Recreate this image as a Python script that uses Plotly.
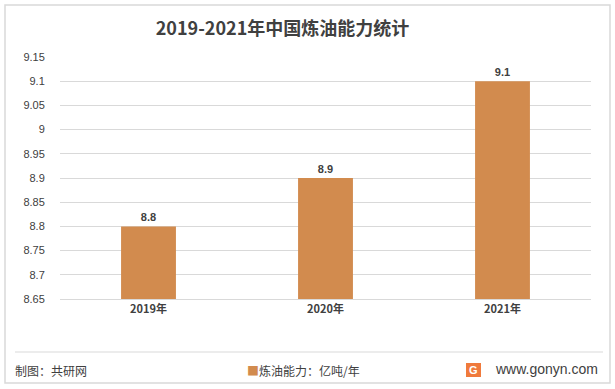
import plotly.graph_objects as go

categories = ["2019年", "2020年", "2021年"]
values = [8.8, 8.9, 9.1]
tick_vals = [8.65, 8.7, 8.75, 8.8, 8.85, 8.9, 8.95, 9.0, 9.05, 9.1, 9.15]
tick_text = ["8.65", "8.7", "8.75", "8.8", "8.85", "8.9", "8.95", "9", "9.05", "9.1", "9.15"]
series_name = "炼油能力：亿吨/年"
bar_color = "#D28B4E"

W, H = 615, 389
L, R, T, B = 60, 24, 57, 90
PW, PH = W - L - R, H - T - B


def px_x(x):
    return (x - L) / PW


def px_y(y):
    return (H - B - y) / PH


fig = go.Figure()
fig.add_trace(go.Bar(
    x=categories, y=[v - 8.65 for v in values], base=8.65,
    name=series_name, marker=dict(color=bar_color, line=dict(width=0)),
    width=0.31,
    text=[f"{v:g}" for v in values], textposition="outside",
    textfont=dict(family="Liberation Sans, Arial", size=11, color="#404040"),
    texttemplate="<b>%{text}</b>", cliponaxis=False,
    showlegend=False,
))

fig.update_layout(
    width=W, height=H,
    margin=dict(l=L, r=R, t=T, b=B, autoexpand=False),
    paper_bgcolor="white", plot_bgcolor="white",
    font=dict(family="Noto Sans CJK SC, Liberation Sans", size=11, color="#595959"),
    title=dict(text="<b>2019-2021年中国炼油能力统计</b>", x=282.5 / W, xanchor="center",
               y=1 - 29 / H, yanchor="middle",
               font=dict(size=18, color="#404040", family="Noto Sans CJK SC")),
    xaxis=dict(showgrid=False, showline=True, linecolor="#d9d9d9", ticks="",
               tickfont=dict(size=11, color="#404040", family="Noto Sans CJK SC"),
               tickprefix="<b>", ticksuffix="</b>", fixedrange=True),
    yaxis=dict(range=[8.65, 9.15], tickvals=tick_vals, ticktext=tick_text,
               showgrid=True, gridcolor="#d9d9d9", gridwidth=1, zeroline=False,
               showline=False, ticks="outside", ticklen=12, tickcolor="rgba(0,0,0,0)",
               tickfont=dict(size=11, color="#404040", family="Liberation Sans, Arial")),
    showlegend=False,
    bargap=0.69,
    shapes=[
        dict(type="rect", xref="paper", yref="paper",
             x0=px_x(5), x1=px_x(610), y0=px_y(383), y1=px_y(5),
             line=dict(color="#d9d9d9", width=1.5), fillcolor="rgba(0,0,0,0)", layer="below"),
        dict(type="line", xref="paper", yref="paper",
             x0=px_x(15), x1=px_x(603), y0=px_y(352), y1=px_y(352),
             line=dict(color="#d9d9d9", width=1)),
        dict(type="rect", xref="paper", yref="paper",
             x0=px_x(466), x1=px_x(481), y0=px_y(377), y1=px_y(363),
             line=dict(width=0), fillcolor="#F07A3C"),
    ],
    annotations=[
        dict(text="制图：共研网", xref="paper", yref="paper",
             x=px_x(13), xanchor="left", y=px_y(370), yanchor="middle", showarrow=False,
             font=dict(size=12, color="#404040")),
        dict(text=f"<span style='color:{bar_color}'>■</span>{series_name}",
             xref="paper", yref="paper",
             x=px_x(245), xanchor="left", y=px_y(370), yanchor="middle", showarrow=False,
             font=dict(size=12, color="#404040")),
        dict(text="<b>G</b>", xref="paper", yref="paper",
             x=px_x(473.5), xanchor="center", y=px_y(370), yanchor="middle", showarrow=False,
             font=dict(size=11, color="white", family="Liberation Sans")),
        dict(text="www.gonyn.com", xref="paper", yref="paper",
             x=px_x(600), xanchor="right", y=px_y(369), yanchor="middle", showarrow=False,
             font=dict(size=14, color="#404040", family="Liberation Sans, Arial")),
    ],
)

fig.write_html("out.html", config={"displayModeBar": False},
               post_script="document.body.style.margin='0';document.body.style.overflow='hidden';")
